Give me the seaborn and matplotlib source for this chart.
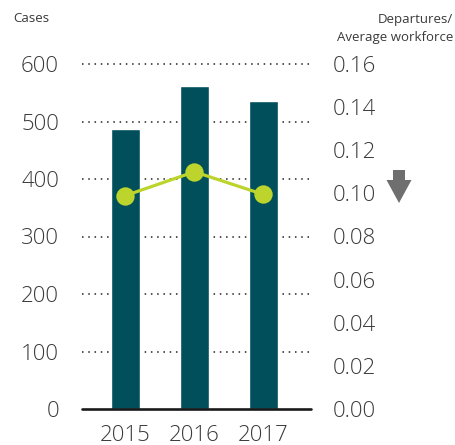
import matplotlib
matplotlib.use("Agg")
import matplotlib.pyplot as plt
import seaborn as sns
import pandas as pd
from matplotlib.patches import Polygon

years = ["2015", "2016", "2017"]
cases = [487, 562, 536]
departure_rate = [0.099, 0.110, 0.0995]
left_ticks = [0, 100, 200, 300, 400, 500, 600]
right_ticks = [0.00, 0.02, 0.04, 0.06, 0.08, 0.10, 0.12, 0.14, 0.16]

BAR = "#004f5b"
LINE = "#bcd42c"
TEXT = "#3a3a3a"
ARROW = "#6f6f6f"

sns.set_style("white")
plt.rcParams['font.family'] = ['Open Sans', 'DejaVu Sans']
plt.rcParams['font.weight'] = 'light'

df = pd.DataFrame({"year": years, "cases": cases, "rate": departure_rate})

W, H = 456, 445
fig = plt.figure(figsize=(W / 100, H / 100), dpi=100)
ax_left, ax_right_px = 82, 311
ax_bottom_px = 409
ytop = 620
px_per_unit = 345 / 600
height_px = ytop * px_per_unit
ax = fig.add_axes([ax_left / W, (H - ax_bottom_px) / H,
                   (ax_right_px - ax_left) / W, height_px / H])

sns.barplot(data=df, x="year", y="cases", color=BAR, width=0.42,
            saturation=1, ax=ax, zorder=2)
ax.set_ylim(0, ytop)

# dotted grid
for v in left_ticks[1:]:
    ax.axhline(v, color="#222222", lw=1.1, linestyle=(0, (1, 3.1)), zorder=1,
               clip_on=False)
ax.axhline(0, color="#1a1a1a", lw=1.9, zorder=3, clip_on=False)

ax2 = ax.twinx()
sns.pointplot(data=df, x="year", y="rate", color=LINE, ax=ax2,
              markersize=11.5, linewidth=2.3, errorbar=None)
ax2.set_ylim(0, 0.16 * ytop / 600)
ax.set_xlim(-0.63, 2.69)
ax2.set_xlim(-0.63, 2.69)

for a in (ax, ax2):
    for s in a.spines.values():
        s.set_visible(False)
    a.set_xlabel("")
    a.set_ylabel("")

ax.set_yticks(left_ticks)
ax.set_yticklabels([str(t) for t in left_ticks])
ax2.set_yticks(right_ticks)
ax2.set_yticklabels([f"{t:.2f}" for t in right_ticks])
ax.tick_params(axis="y", length=0, pad=16.5, labelsize=16, labelcolor=TEXT)
ax2.tick_params(axis="y", length=0, pad=15.5, labelsize=16, labelcolor=TEXT)
ax.tick_params(axis="x", length=0, pad=11.5, labelsize=16, labelcolor=TEXT)
ax2.tick_params(axis="x", length=0, labelbottom=False)

fig.text(13 / W, 1 - 19 / H, "Cases", ha="left", va="center",
         fontsize=9.5, color=TEXT, weight="normal")
fig.text(453 / W, 1 - 19 / H, "Departures/", ha="right", va="center",
         fontsize=9.5, color=TEXT, weight="normal")
fig.text(453 / W, 1 - 38 / H, "Average workforce", ha="right", va="center",
         fontsize=9.5, color=TEXT, weight="normal")

# down arrow indicator
pts = [(393, 170), (405, 170), (405, 180), (411.5, 180), (399, 203),
       (386.5, 180), (393, 180)]
poly = Polygon([(x / W, 1 - y / H) for x, y in pts], closed=True,
               transform=fig.transFigure, facecolor=ARROW, edgecolor="none")
fig.patches.append(poly)

fig.savefig("out.png", dpi=100)
